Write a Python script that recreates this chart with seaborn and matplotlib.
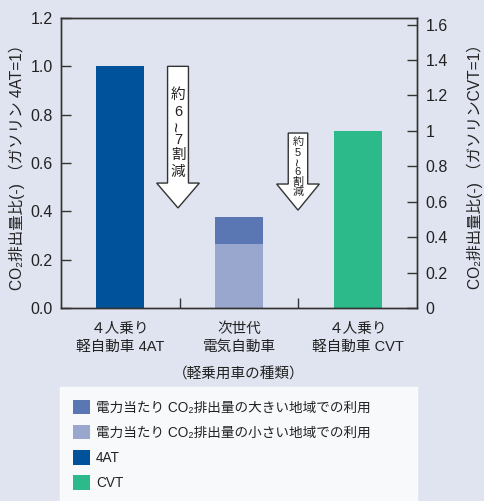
import numpy as np
import pandas as pd
import matplotlib
matplotlib.use("Agg")
import matplotlib.pyplot as plt
import seaborn as sns
from matplotlib.patches import Polygon, Patch

categories = ["４人乗り\n軽自動車 4AT", "次世代\n電気自動車", "４人乗り\n軽自動車 CVT"]
totals = [1.0, 0.376, 0.733]        # 4AT, EV (high-CO2 region), CVT
ev_low = [0.0, 0.265, 0.0]          # EV (low-CO2 region)
left_ticks = [0.0, 0.2, 0.4, 0.6, 0.8, 1.0, 1.2]
right_ticks = [0, 0.2, 0.4, 0.6, 0.8, 1.0, 1.2, 1.4, 1.6]
right_labels = ["0", "0.2", "0.4", "0.6", "0.8", "1", "1.2", "1.4", "1.6"]
legend_labels = ["電力当たり CO₂排出量の大きい地域での利用",
                 "電力当たり CO₂排出量の小さい地域での利用",
                 "4AT", "CVT"]
arrow_texts = [["約", "6", "~", "7", "割", "減"], ["約", "5", "~", "6", "割", "減"]]

sns.set_theme(style="white")
plt.rcParams["font.family"] = ["Liberation Sans", "Noto Sans CJK JP", "DejaVu Sans"]

bg = "#e0e4f0"
c_4at = "#00529b"
c_evh = "#5a76b3"
c_evl = "#99a6cd"
c_cvt = "#2dba8a"
edge = "#333333"

fig = plt.figure(figsize=(4.84, 5.01), dpi=100, facecolor=bg)
ax = fig.add_axes([61/484, 1-308/501, 356/484, 290/501])
ax.set_facecolor(bg)

df = pd.DataFrame({"cat": categories, "total": totals, "low": ev_low})
sns.barplot(data=df, x="cat", y="total", hue="cat",
            palette=[c_4at, c_evh, c_cvt], width=0.405, legend=False,
            ax=ax, saturation=1, linewidth=0)
sns.barplot(data=df, x="cat", y="low", hue="cat",
            palette=[c_4at, c_evl, c_cvt], width=0.405, legend=False,
            ax=ax, saturation=1, linewidth=0)

ax.set_xlim(-0.5, 2.5)
ax.set_ylim(0, 1.2)
ax.set_yticks(left_ticks)
ax.set_yticklabels([f"{v:.1f}" for v in left_ticks])
ax.set_xticks([0, 1, 2])
ax.set_xticklabels(categories, fontsize=10.5, linespacing=1.35)
ax.set_xticks([0.5, 1.5], minor=True)
ax.tick_params(axis="x", which="major", length=0, pad=10, colors="#222222")
ax.tick_params(axis="x", which="minor", direction="in", length=7, width=1, color=edge, bottom=True)
ax.tick_params(axis="y", direction="in", length=7, width=1, color=edge, labelsize=11.5,
               left=True, pad=6, labelcolor="#222222")
ax.set_xlabel("（軽乗用車の種類）", fontsize=10.5, labelpad=10, color="#222222")
ax.set_ylabel("CO₂排出量比(-) （ガソリン 4AT=1）", fontsize=11.2, labelpad=4, color="#222222")
for s in ax.spines.values():
    s.set_color(edge)
    s.set_linewidth(1)

ax2 = ax.twinx()
ax2.set_ylim(0, 1.2 / totals[2])
ax2.set_yticks(right_ticks)
ax2.set_yticklabels(right_labels)
ax2.tick_params(axis="y", direction="in", length=7, width=1, color=edge, labelsize=11.5,
                right=True, pad=6, labelcolor="#222222")
ax2.set_ylabel("CO₂排出量比(-) （ガソリンCVT=1）", fontsize=11.2, labelpad=14, color="#222222")
for s in ax2.spines.values():
    s.set_color(edge)
    s.set_linewidth(1)

def outline_arrow(axis, xc, ytop, ybase, ytip, hw_shaft, hw_head):
    pts = [(xc - hw_shaft, ytop), (xc + hw_shaft, ytop), (xc + hw_shaft, ybase),
           (xc + hw_head, ybase), (xc, ytip), (xc - hw_head, ybase), (xc - hw_shaft, ybase)]
    axis.add_patch(Polygon(pts, closed=True, facecolor="white", edgecolor=edge, lw=1, zorder=3))

outline_arrow(ax, 0.486, totals[0], 0.517, 0.414, 0.088, 0.18)
outline_arrow(ax, 1.497, 0.724, 0.513, 0.405, 0.082, 0.18)

# arrow texts
ys1 = [0.883, 0.812, 0.750, 0.694, 0.632, 0.562]
for t, y in zip(arrow_texts[0], ys1):
    rot = 90 if t == "~" else 0
    fs = 13 if t == "~" else 10.5
    ax.text(0.486, y, t, ha="center", va="center", fontsize=fs, rotation=rot, zorder=4, color="#222222")
ys2 = [0.686, 0.643, 0.605, 0.563, 0.521, 0.480]
for t, y in zip(arrow_texts[1], ys2):
    rot = 90 if t == "~" else 0
    fs = 10 if t == "~" else 8
    ax.text(1.497, y, t, ha="center", va="center", fontsize=fs, rotation=rot, zorder=4, color="#222222")

handles = [Patch(facecolor=c, edgecolor="none") for c in [c_evh, c_evl, c_4at, c_cvt]]
leg = fig.legend(handles, legend_labels, loc="lower left",
                 bbox_to_anchor=(60/484, -0.004, 357/484, 110/501), mode="expand",
                 frameon=True, fancybox=False, fontsize=9.8, handlelength=1.25, handleheight=1.25,
                 handletextpad=0.45, labelspacing=0.76, borderpad=0.95, borderaxespad=0)
leg.get_frame().set_facecolor("white")
leg.get_frame().set_edgecolor("white")
for t in leg.get_texts():
    t.set_color("#222222")

fig.savefig("out.png", dpi=100, facecolor=bg)
